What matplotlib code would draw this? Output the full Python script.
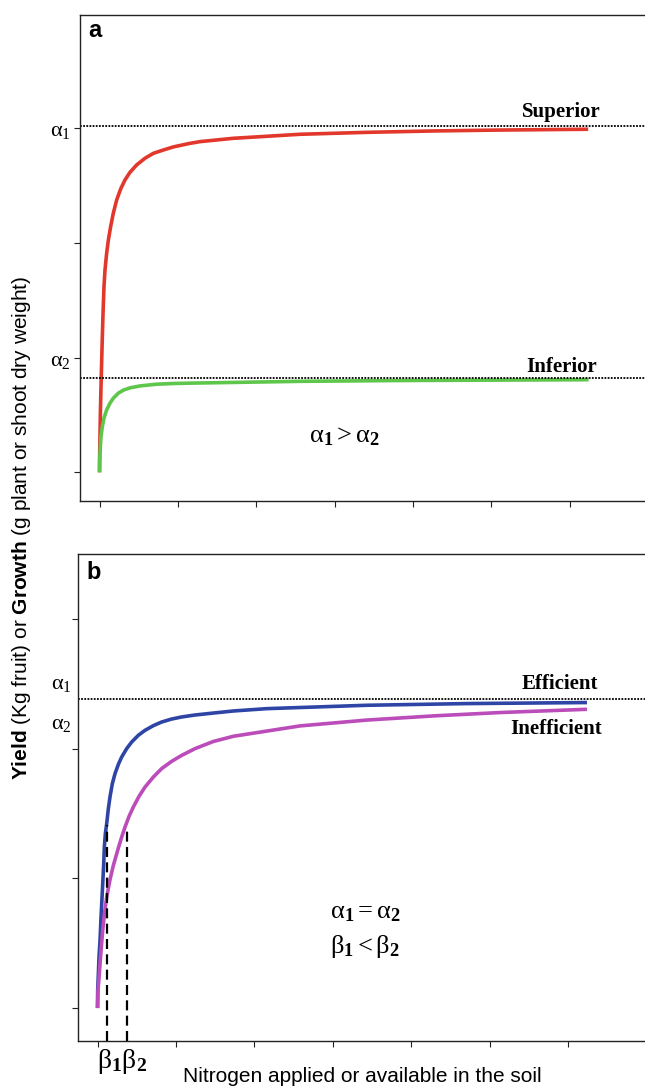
import matplotlib
matplotlib.use('Agg')
import matplotlib.pyplot as plt

plt.rcParams['font.family'] = ['Liberation Sans', 'DejaVu Sans']
plt.rcParams['mathtext.fontset'] = 'custom'
plt.rcParams['mathtext.rm'] = 'Liberation Serif'
plt.rcParams['mathtext.it'] = 'Liberation Serif:italic'
plt.rcParams['mathtext.bf'] = 'Liberation Serif:bold'
plt.rcParams['mathtext.sf'] = 'Liberation Sans:bold'

# 曲线数据，横轴单位为刻度间隔
red_x = [0, 0.002, 0.006, 0.011, 0.019, 0.028, 0.036, 0.045, 0.057, 0.070,
         0.091, 0.113, 0.142, 0.176, 0.219, 0.270, 0.325, 0.389, 0.474, 0.580,
         0.687, 0.814, 0.942, 1.146, 1.282, 1.707, 2.557, 3.408, 4.258, 5.108, 6.235]
red_y = [0, 0.167, 0.312, 0.516, 0.747, 0.98, 1.183, 1.387, 1.618, 1.764,
         1.909, 2.025, 2.141, 2.258, 2.374, 2.470, 2.548, 2.615, 2.679, 2.737,
         2.780, 2.809, 2.836, 2.866, 2.882, 2.911, 2.946, 2.963, 2.975, 2.983, 2.99]

green_x = [0, 0.002, 0.011, 0.019, 0.036, 0.057, 0.091, 0.134, 0.176, 0.240,
           0.304, 0.389, 0.517, 0.729, 0.942, 1.146, 2.56, 3.83, 6.24]
green_y = [0, 0.109, 0.225, 0.312, 0.399, 0.472, 0.544, 0.603, 0.646, 0.690,
           0.716, 0.736, 0.753, 0.768, 0.774, 0.777, 0.793, 0.80, 0.807]

blue_x = [0, 0.002, 0.011, 0.019, 0.032, 0.045, 0.062, 0.079, 0.087, 0.100,
          0.117, 0.138, 0.159, 0.189, 0.223, 0.266, 0.308, 0.372, 0.436, 0.521,
          0.606, 0.712, 0.818, 0.946, 1.074, 1.244, 1.477, 1.732, 2.158, 3.434,
          4.709, 6.24]
blue_y = [0, 0.136, 0.265, 0.393, 0.522, 0.702, 0.907, 1.113, 1.241, 1.345,
          1.422, 1.537, 1.627, 1.730, 1.807, 1.879, 1.935, 2.0, 2.051, 2.103,
          2.141, 2.177, 2.205, 2.228, 2.244, 2.259, 2.274, 2.29, 2.308, 2.334,
          2.347, 2.355]

pink_x = [0, 0.006, 0.023, 0.045, 0.066, 0.091, 0.117, 0.159, 0.202, 0.266,
          0.308, 0.351, 0.402, 0.457, 0.529, 0.606, 0.712, 0.818, 0.946, 1.074,
          1.244, 1.477, 1.732, 2.583, 3.434, 4.283, 5.134, 6.24]
pink_y = [0, 0.136, 0.265, 0.445, 0.599, 0.740, 0.856, 0.99, 1.10, 1.235,
          1.318, 1.396, 1.478, 1.55, 1.632, 1.704, 1.781, 1.846, 1.902, 1.948,
          2.0, 2.055, 2.095, 2.175, 2.22, 2.252, 2.278, 2.303]

alpha_a = [3.02, 0.82]     # 图a中两条渐近线
alpha_b = 2.38             # 图b中渐近线
beta_x = [0.12, 0.37]      # β1, β2
beta_top = [1.41, 1.37]

RED = '#e2372b'
GREEN = '#5fc64c'
BLUE = '#2f45a6'
PINK = '#bb4cba'
DOT = (0, (1, 0.75))

fig = plt.figure(figsize=(6.45, 10.88), dpi=100)

# ---- 图 a ----
ax1 = fig.add_axes([80 / 645, 1 - 501 / 1088, 1 - 80 / 645, (501 - 14.5) / 1088])
ax1.plot(red_x, red_y, color=RED, lw=2.6, solid_capstyle='butt', solid_joinstyle='round')
ax1.plot(green_x, green_y, color=GREEN, lw=2.6, solid_capstyle='butt', solid_joinstyle='round')
for a in alpha_a:
    ax1.axhline(a, color='black', lw=1.3, ls=DOT)
ax1.set_xlim(-0.249, 6.96)
ax1.set_ylim(-0.25, 3.99)
ax1.set_xticks(range(7))
ax1.set_xticklabels([])
ax1.set_yticks([0, 1, 2, 3])
ax1.set_yticklabels(['', r'$\mathrm{\alpha_2}$', '', r'$\mathrm{\alpha_1}$'], fontsize=16)
ax1.text(5.89, 3.10, 'Superior', ha='center', va='baseline',
         fontfamily='Liberation Serif', fontweight='bold', fontsize=15)
ax1.text(5.90, 0.875, 'Inferior', ha='center', va='baseline',
         fontfamily='Liberation Serif', fontweight='bold', fontsize=15)
ax1.text(3.12, 0.26, r'$\mathrm{\alpha}_{\mathbf{1}}>\mathrm{\alpha}_{\mathbf{2}}$',
         ha='center', va='baseline', fontsize=19)
ax1.text(0.014, 0.99, 'a', transform=ax1.transAxes, fontweight='bold',
         fontsize=17, va='top', ha='left')

# ---- 图 b ----
ax2 = fig.add_axes([78.3 / 645, 1 - 1040.5 / 1088, 1 - 78.3 / 645, (1040.5 - 554) / 1088])
ax2.plot(blue_x, blue_y, color=BLUE, lw=2.6, solid_capstyle='butt', solid_joinstyle='round')
ax2.plot(pink_x, pink_y, color=PINK, lw=2.6, solid_capstyle='butt', solid_joinstyle='round')
ax2.axhline(alpha_b, color='black', lw=1.3, ls=DOT)
for bx, bt in zip(beta_x, beta_top):
    ax2.plot([bx, bx], [-0.25, bt], color='black', lw=1.6, ls=(0, (4.5, 2.4)))
ax2.set_xlim(-0.245, 6.98)
ax2.set_ylim(-0.25, 3.50)
ax2.set_xticks(range(7))
ax2.set_xticklabels([])
ax2.set_yticks([0, 1, 2, 3])
ax2.set_yticklabels([])
ax2.text(-0.33, 2.50, r'$\mathrm{\alpha_1}$', ha='right', va='center', fontsize=16)
ax2.text(-0.33, 2.19, r'$\mathrm{\alpha_2}$', ha='right', va='center', fontsize=16)
ax2.text(5.90, 2.46, 'Efficient', ha='center', va='baseline',
         fontfamily='Liberation Serif', fontweight='bold', fontsize=15)
ax2.text(5.85, 2.11, 'Inefficient', ha='center', va='baseline',
         fontfamily='Liberation Serif', fontweight='bold', fontsize=15)
ax2.text(3.42, 0.695, r'$\mathrm{\alpha}_{\mathbf{1}}=\mathrm{\alpha}_{\mathbf{2}}$',
         ha='center', va='baseline', fontsize=19)
ax2.text(3.41, 0.425, r'$\mathrm{\beta}_{\mathbf{1}}<\mathrm{\beta}_{\mathbf{2}}$',
         ha='center', va='baseline', fontsize=19)
ax2.text(0.31, -0.465, r'$\mathrm{\beta}_{\mathbf{1}}\mathrm{\beta}_{\mathbf{2}}$',
         ha='center', va='baseline', fontsize=20, clip_on=False)
ax2.text(0.014, 0.985, 'b', transform=ax2.transAxes, fontweight='bold',
         fontsize=17, va='top', ha='left')

for ax in (ax1, ax2):
    ax.spines['right'].set_visible(False)
    for s in ('left', 'top', 'bottom'):
        ax.spines[s].set_linewidth(1.0)
        ax.spines[s].set_color('#222222')
    ax.tick_params(direction='out', length=4, width=0.8, color='#222222', pad=3)

fig.text(362 / 645, 1 - 1076 / 1088, 'Nitrogen applied or available in the soil',
         ha='center', va='center', fontsize=15)
fig.text(22 / 645, 1 - 528 / 1088,
         r'$\mathsf{Yield}$ (Kg fruit) or $\mathsf{Growth}$ (g plant or shoot dry weight)',
         rotation=90, ha='center', va='center', fontsize=15)

plt.savefig('out.png', dpi=100)
